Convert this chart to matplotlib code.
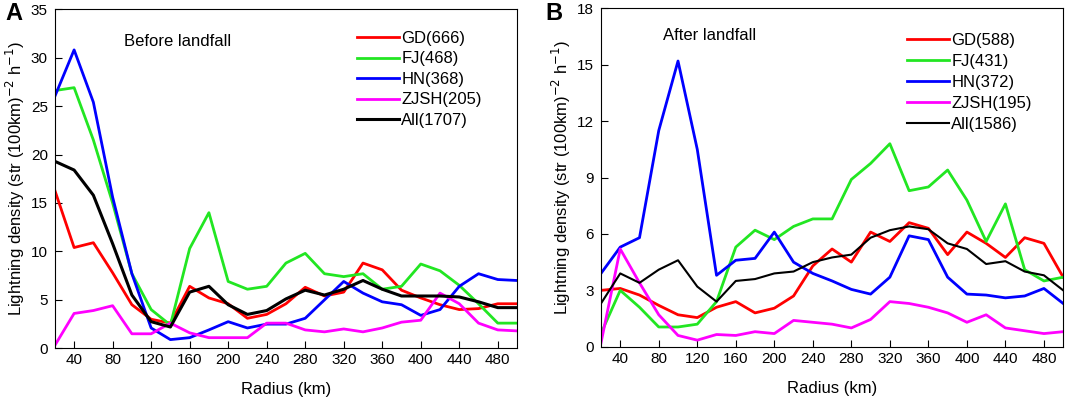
import matplotlib
matplotlib.use("Agg")
import matplotlib.pyplot as plt
import numpy as np

plt.rcParams["font.family"] = ["Liberation Sans", "DejaVu Sans"]

radius = np.arange(20, 501, 20)

# Before landfall
gd_a = [16.3, 10.4, 10.9, 7.8, 4.5, 3.0, 2.6, 6.4, 5.2, 4.6, 3.1, 3.5, 4.6, 6.3, 5.4, 5.8,
        8.8, 8.1, 6.0, 5.2, 4.5, 4.0, 4.1, 4.6, 4.6]
fj_a = [26.6, 26.9, 21.5, 15.0, 7.7, 4.0, 2.4, 10.3, 14.0, 6.9, 6.1, 6.4, 8.8, 9.8, 7.7, 7.4,
        7.7, 6.1, 6.4, 8.7, 8.0, 6.5, 4.6, 2.6, 2.6]
hn_a = [26.0, 30.8, 25.4, 15.6, 7.7, 2.1, 0.9, 1.1, 1.9, 2.75, 2.1, 2.5, 2.5, 3.1, 5.0, 6.9,
        5.7, 4.8, 4.5, 3.4, 4.0, 6.4, 7.7, 7.1, 7.0]
zjsh_a = [0.3, 3.6, 3.9, 4.4, 1.5, 1.5, 2.6, 1.6, 1.1, 1.1, 1.1, 2.6, 2.6, 1.9, 1.7, 2.0,
          1.7, 2.1, 2.7, 2.9, 5.7, 4.6, 2.6, 1.9, 1.8]
all_a = [19.3, 18.4, 15.8, 10.8, 5.5, 2.75, 2.2, 5.8, 6.4, 4.5, 3.5, 3.9, 5.1, 6.0, 5.5, 6.1,
         7.0, 6.1, 5.4, 5.4, 5.4, 5.3, 4.8, 4.2, 4.2]

# After landfall
gd_b = [3.0, 3.1, 2.75, 2.2, 1.7, 1.55, 2.1, 2.4, 1.8, 2.05, 2.7, 4.3, 5.2, 4.5, 6.1, 5.6,
        6.6, 6.3, 4.9, 6.1, 5.5, 4.75, 5.8, 5.5, 3.7]
fj_b = [0.7, 3.0, 2.1, 1.05, 1.05, 1.2, 2.4, 5.3, 6.2, 5.7, 6.4, 6.8, 6.8, 8.9, 9.75, 10.8,
        8.3, 8.5, 9.4, 7.8, 5.6, 7.6, 4.1, 3.5, 3.7]
hn_b = [3.9, 5.3, 5.8, 11.5, 15.2, 10.5, 3.8, 4.6, 4.7, 6.1, 4.5, 3.9, 3.5, 3.05, 2.8, 3.7,
        5.9, 5.7, 3.7, 2.8, 2.75, 2.6, 2.7, 3.1, 2.3]
zjsh_b = [0.2, 5.2, 3.4, 1.7, 0.6, 0.35, 0.65, 0.6, 0.8, 0.7, 1.4, 1.3, 1.2, 1.0, 1.45, 2.4,
          2.3, 2.1, 1.8, 1.3, 1.7, 1.0, 0.85, 0.7, 0.8]
all_b = [2.3, 3.9, 3.4, 4.1, 4.6, 3.2, 2.4, 3.5, 3.6, 3.9, 4.0, 4.5, 4.75, 4.9, 5.8, 6.2,
         6.4, 6.25, 5.5, 5.2, 4.4, 4.55, 4.0, 3.8, 3.0]

labels_a = ["GD(666)", "FJ(468)", "HN(368)", "ZJSH(205)", "All(1707)"]
labels_b = ["GD(588)", "FJ(431)", "HN(372)", "ZJSH(195)", "All(1586)"]
colors = ["#ff0000", "#22e622", "#0000ff", "#ff00ff", "#000000"]

ylabel = r"Lightning density (str (100km)$^{-2}$ h$^{-1}$)"

fig = plt.figure(figsize=(10.65, 3.99), dpi=100)
ax_a = fig.add_axes([0.0515, 0.127, 0.434, 0.850])
ax_b = fig.add_axes([0.5643, 0.131, 0.434, 0.848])


def draw_panel(ax, series, labels, widths, ymax, yticks, note, note_xy, leg_anchor, spacing):
    for vals, lbl, col, lw in zip(series, labels, colors, widths):
        ax.plot(radius, vals, color=col, lw=lw, label=lbl)
    ax.set_xlim(20, 500)
    ax.set_ylim(0, ymax)
    ax.set_xticks(np.arange(40, 481, 40))
    ax.set_yticks(yticks)
    ax.tick_params(direction="in", length=5, labelsize=11, top=False, right=False)
    ax.tick_params(axis="y", pad=5)
    ax.set_xlabel("Radius (km)", fontsize=12, labelpad=11)
    ax.set_ylabel(ylabel, fontsize=12, labelpad=3)
    ax.text(note_xy[0], note_xy[1], note, transform=ax.transAxes, fontsize=12,
            va="center", ha="left")
    ax.legend(loc="upper left", bbox_to_anchor=leg_anchor, frameon=False, fontsize=12,
              handlelength=2.5, handletextpad=0.15, labelspacing=spacing, borderpad=0,
              borderaxespad=0)


draw_panel(ax_a, [gd_a, fj_a, hn_a, zjsh_a, all_a], labels_a, [2, 2, 2, 2, 2.2], 35,
           np.arange(0, 36, 5), "Before landfall", (0.15, 0.905), (0.654, 0.936), 0.33)
draw_panel(ax_b, [gd_b, fj_b, hn_b, zjsh_b, all_b], labels_b, [2, 2, 2, 2, 1.5], 18,
           np.arange(0, 19, 3), "After landfall", (0.135, 0.92), (0.662, 0.928), 0.36)

fig.text(0.005, 0.965, "A", fontsize=17, fontweight="bold", va="center")
fig.text(0.512, 0.965, "B", fontsize=17, fontweight="bold", va="center")

fig.savefig("out.png", dpi=100)
